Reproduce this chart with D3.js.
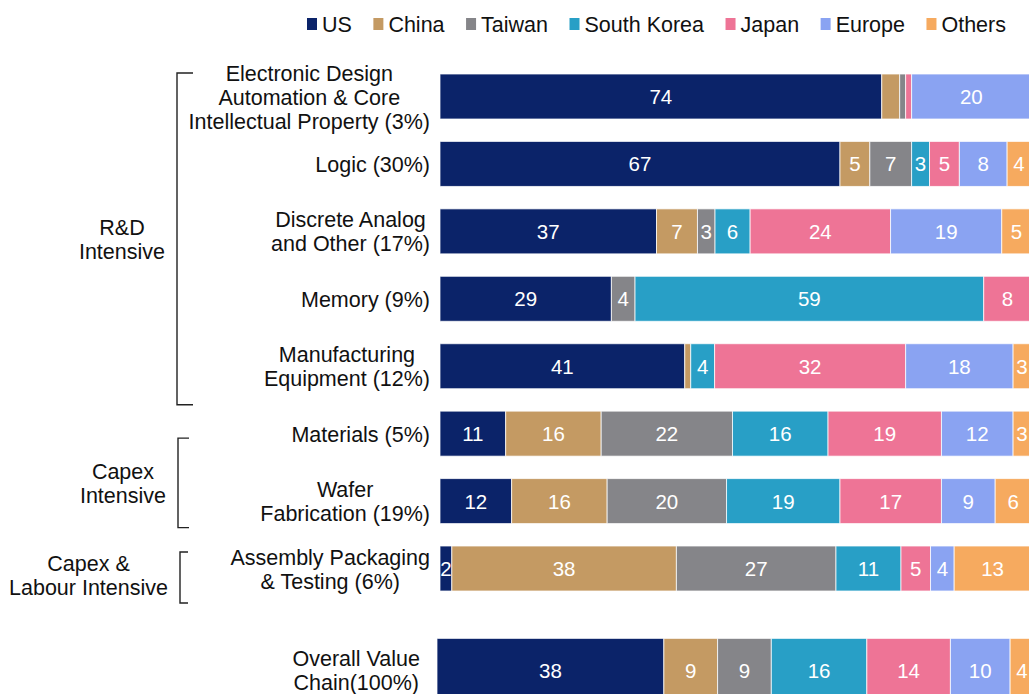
<!DOCTYPE html>
<html>
<head>
<meta charset="utf-8">
<script src="https://cdnjs.cloudflare.com/ajax/libs/d3/7.8.5/d3.min.js"></script>
<style>
  html, body { margin: 0; padding: 0; background: #fff; }
  svg { display: block; }
  text { font-family: "Liberation Sans", Arial, Helvetica, sans-serif; }
</style>
</head>
<body>
<svg id="chart" width="1029" height="694"></svg>
<script>
// Semiconductor value chain: share of value added by region, per activity (%)
const regions = ["US", "China", "Taiwan", "South Korea", "Japan", "Europe", "Others"];
const regionColors = ["#0b2369", "#c49a63", "#858589", "#289fc6", "#ee7496", "#8aa3f2", "#f6aa5f"];

const activities = [
  ["Electronic Design", "Automation & Core", "Intellectual Property (3%)"],
  ["Logic (30%)"],
  ["Discrete Analog", "and Other (17%)"],
  ["Memory (9%)"],
  ["Manufacturing", "Equipment (12%)"],
  ["Materials (5%)"],
  ["Wafer", "Fabrication (19%)"],
  ["Assembly Packaging", "& Testing (6%)"],
  ["Overall Value", "Chain(100%)"]
];

const US         = [74, 67, 37, 29, 41, 11, 12,  2, 38];
const China      = [ 3,  5,  7,  0,  1, 16, 16, 38,  9];
const Taiwan     = [ 1,  7,  3,  4,  0, 22, 20, 27,  9];
const SouthKorea = [ 0,  3,  6, 59,  4, 16, 19, 11, 16];
const Japan      = [ 1,  5, 24,  8, 32, 19, 17,  5, 14];
const Europe     = [20,  8, 19,  0, 18, 12,  9,  4, 10];
const Others     = [ 0,  4,  5,  0,  3,  3,  6, 13,  4];

// Segments left without a value label: [activity index, region]
const unlabeled = [[0, "China"]];

const groups = [
  { lines: ["R&D", "Intensive"], first: 0, last: 4 },
  { lines: ["Capex", "Intensive"], first: 5, last: 6 },
  { lines: ["Capex &", "Labour Intensive"], first: 7, last: 7 }
];

const seriesValues = [US, China, Taiwan, SouthKorea, Japan, Europe, Others];
const rows = activities.map((lines, i) => {
  const r = { index: i, lines };
  regions.forEach((name, k) => { r[name] = seriesValues[k][i]; });
  return r;
});

const svg = d3.select("#chart");

// Layout
const lastRow = activities.length - 1;
const barH = 45;
const summaryBarH = 64;
const rowStep = 67.43;
const summaryGap = 0.37;          // extra space before the overall row, in rows
const lineH = 24;
const textSize = 21.5;

// Activity rows and the overall row sit on slightly different horizontal scales
const x = d3.scaleLinear().domain([0, 1]).range([440, 1031]);
const xSummary = d3.scaleLinear().domain([0, 1]).range([437, 1034]);
const xFor = i => (i === lastRow ? xSummary : x);
const labelRightFor = i => (i === lastRow ? 420 : 430);

const yPos = d3.scaleLinear().domain([0, 1]).range([74, 74 + rowStep]);
const rowTop = i => yPos(i + (i === lastRow ? summaryGap : 0));
const rowH = i => (i === lastRow ? summaryBarH : barH);
const rowMid = i => rowTop(i) + rowH(i) / 2;

const color = d3.scaleOrdinal().domain(regions).range(regionColors);

const stack = d3.stack().keys(regions).offset(d3.stackOffsetExpand);
const layers = stack(rows);

// Bars
const layerG = svg.append("g").selectAll("g")
  .data(layers)
  .join("g")
  .attr("fill", d => color(d.key));

layerG.selectAll("rect")
  .data(d => d.map(s => ({ s, key: d.key, i: s.data.index })))
  .join("rect")
  .attr("x", d => xFor(d.i)(d.s[0]))
  .attr("y", d => rowTop(d.i))
  .attr("width", d => Math.max(0, xFor(d.i)(d.s[1]) - xFor(d.i)(d.s[0])))
  .attr("height", d => rowH(d.i))
  .attr("stroke", "#ffffff")
  .attr("stroke-opacity", 0.75)
  .attr("stroke-width", 1);

// Value labels
const isHidden = (i, key) => unlabeled.some(([r, k]) => r === i && k === key);
layerG.selectAll("text")
  .data(d => d.map(s => ({ s, key: d.key, i: s.data.index }))
    .filter(d => d.s.data[d.key] >= 2 && !isHidden(d.i, d.key)))
  .join("text")
  .attr("x", d => (xFor(d.i)(d.s[0]) + xFor(d.i)(d.s[1])) / 2)
  .attr("y", d => rowMid(d.i) + 7.5)
  .attr("text-anchor", "middle")
  .attr("font-size", 20.5)
  .attr("fill", "#ffffff")
  .text(d => d.s.data[d.key]);

// Category labels: each block centred, right edge aligned near the bars
const catG = svg.append("g");
rows.forEach(r => {
  const t = catG.append("text")
    .attr("font-size", textSize)
    .attr("fill", "#111")
    .attr("text-anchor", "middle");
  const n = r.lines.length;
  const spans = r.lines.map((ln, k) => t.append("tspan")
    .attr("y", rowMid(r.index) + (k - (n - 1) / 2) * lineH + 8)
    .text(ln));
  const maxW = d3.max(spans, s => s.node().getComputedTextLength());
  spans.forEach(s => s.attr("x", labelRightFor(r.index) - maxW / 2));
});

// Group brackets and labels
const bracketShapes = [
  { x: 177, tick: 16, top: rowTop(0) - 1, bottom: rowTop(4) + barH + 16, shift: 0 },
  { x: 178, tick: 11, top: rowTop(5) + 27, bottom: rowTop(6) + barH + 4, shift: 0 },
  { x: 180, tick: 8, top: rowTop(7) + 6, bottom: rowTop(7) + barH + 12, shift: -3 }
];

const grpG = svg.append("g");
groups.forEach((g, gi) => {
  const b = bracketShapes[gi];
  grpG.append("path")
    .attr("d", `M${b.x + b.tick},${b.top}H${b.x}V${b.bottom}H${b.x + b.tick}`)
    .attr("fill", "none")
    .attr("stroke", "#222")
    .attr("stroke-width", 1.4);
  const mid = (b.top + b.bottom) / 2 + b.shift;
  const t = grpG.append("text")
    .attr("font-size", textSize)
    .attr("fill", "#111")
    .attr("text-anchor", "middle");
  const n = g.lines.length;
  const spans = g.lines.map((ln, k) => t.append("tspan")
    .attr("y", mid + (k - (n - 1) / 2) * lineH + 8)
    .text(ln));
  const maxW = d3.max(spans, s => s.node().getComputedTextLength());
  spans.forEach(s => s.attr("x", b.x - 12 - maxW / 2));
});

// Legend
const leg = svg.append("g");
let lx = 307;
regions.forEach(name => {
  leg.append("rect")
    .attr("x", lx).attr("y", 18)
    .attr("width", 10).attr("height", 12)
    .attr("fill", color(name));
  const t = leg.append("text")
    .attr("x", lx + 15).attr("y", 31.5)
    .attr("font-size", textSize)
    .attr("fill", "#111")
    .text(name);
  lx += 15 + t.node().getComputedTextLength() + 21.5;
});
</script>
</body>
</html>
